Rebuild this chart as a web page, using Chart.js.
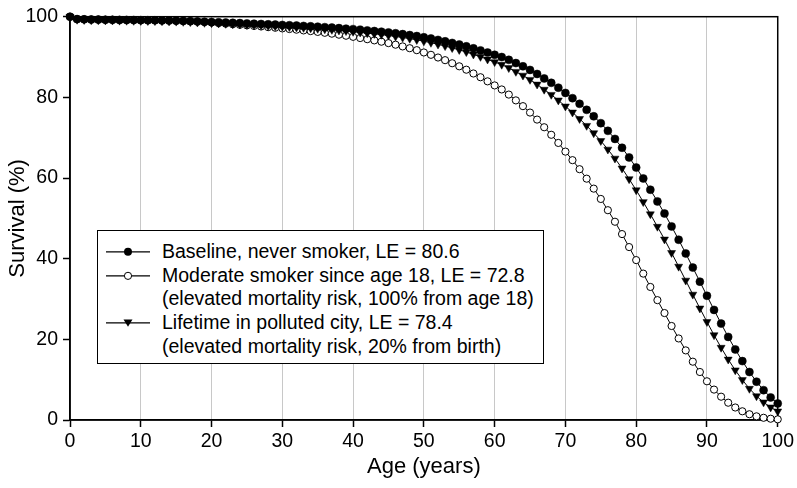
<!DOCTYPE html>
<html><head><meta charset="utf-8">
<script src="https://cdn.jsdelivr.net/npm/chart.js@4.4.1/dist/chart.umd.min.js"></script>
<style>
html,body{margin:0;padding:0;background:#fff;}
#wrap{position:relative;width:797px;height:488px;}
#legend{position:absolute;left:97px;top:230px;width:447px;height:134px;border:1.5px solid #000;background:#fff;font-family:"Liberation Sans",Arial,sans-serif;font-size:19.5px;color:#000;box-sizing:border-box;padding-top:9px;}
.row{position:relative;height:23.7px;line-height:23.7px;white-space:nowrap;}
.row svg{position:absolute;left:7px;top:0;}
.row span{position:absolute;left:64px;top:0;}
</style></head>
<body>
<div id="wrap"><canvas id="c" width="797" height="488"></canvas><div id="legend"></div></div>
<script>
const ages = [0,1,2,3,4,5,6,7,8,9,10,11,12,13,14,15,16,17,18,19,20,21,22,23,24,25,26,27,28,29,30,31,32,33,34,35,36,37,38,39,40,41,42,43,44,45,46,47,48,49,50,51,52,53,54,55,56,57,58,59,60,61,62,63,64,65,66,67,68,69,70,71,72,73,74,75,76,77,78,79,80,81,82,83,84,85,86,87,88,89,90,91,92,93,94,95,96,97,98,99,100];

const baseline = [100,99.4,99.35,99.3,99.28,99.25,99.23,99.21,99.19,99.17,99.15,99.13,99.11,99.08,99.05,99.01,98.96,98.9,98.83,98.76,98.69,98.62,98.55,98.48,98.41,98.34,98.27,98.2,98.12,98.04,97.96,97.88,97.8,97.71,97.62,97.52,97.41,97.3,97.17,97.04,96.9,96.75,96.6,96.45,96.28,96.1,95.9,95.68,95.45,95.2,94.9,94.6,94.25,93.9,93.5,93.1,92.65,92.15,91.65,91.1,90.55,90.0,89.3,88.5,87.7,86.8,85.8,84.7,83.6,82.4,81.1,79.8,78.4,76.9,75.3,73.6,71.7,69.7,67.5,65.1,62.6,59.9,57.1,54.2,51.2,48.0,44.7,41.3,37.8,34.3,30.8,27.3,23.9,20.6,17.5,14.6,11.9,9.5,7.4,5.6,4.1];

const smoker = [100,99.4,99.35,99.3,99.28,99.25,99.23,99.21,99.19,99.17,99.15,99.13,99.11,99.08,99.05,99.01,98.96,98.9,98.83,98.69,98.55,98.41,98.27,98.13,97.99,97.85,97.71,97.57,97.41,97.26,97.1,96.94,96.78,96.6,96.43,96.23,96.01,95.79,95.54,95.28,95.01,94.71,94.42,94.13,93.8,93.45,93.06,92.63,92.19,91.7,91.13,90.55,89.88,89.22,88.46,87.7,86.86,85.92,84.99,83.97,82.96,81.96,80.69,79.25,77.82,76.23,74.49,72.59,70.72,68.7,66.55,64.43,62.19,59.84,57.37,54.81,52.02,49.16,46.1,42.88,39.65,36.3,32.99,29.72,26.52,23.31,20.22,17.26,14.46,11.9,9.6,7.54,5.78,4.29,3.1,2.16,1.43,0.91,0.55,0.32,0.17];

const polluted = [100,99.28,99.22,99.16,99.14,99.1,99.08,99.05,99.03,99.0,98.98,98.96,98.93,98.9,98.86,98.81,98.75,98.68,98.6,98.51,98.43,98.34,98.26,98.18,98.09,98.01,97.92,97.84,97.74,97.65,97.56,97.46,97.37,97.26,97.15,97.03,96.9,96.77,96.61,96.46,96.29,96.11,95.93,95.76,95.55,95.34,95.1,94.84,94.57,94.27,93.91,93.56,93.14,92.73,92.25,91.78,91.25,90.66,90.07,89.42,88.77,88.12,87.3,86.36,85.43,84.38,83.21,81.93,80.66,79.27,77.77,76.28,74.68,72.97,71.15,69.22,67.09,64.85,62.4,59.75,57.0,54.07,51.05,47.95,44.79,41.45,38.05,34.6,31.12,27.69,24.34,21.06,17.95,15.02,12.35,9.94,7.77,5.93,4.4,3.15,2.16];

const legendRows = [
  {marker:'filled', text:'Baseline, never smoker, LE = 80.6'},
  {marker:'open', text:'Moderate smoker since age 18, LE = 72.8'},
  {marker:null, text:'(elevated mortality risk, 100% from age 18)'},
  {marker:'tri', text:'Lifetime in polluted city, LE = 78.4'},
  {marker:null, text:'(elevated mortality risk, 20% from birth)'}
];

const xTitle = 'Age (years)';
const yTitle = 'Survival (%)';
const FONT = '"Liberation Sans", Arial, sans-serif';

function pts(vals){ return ages.map((a,i)=>({x:a, y:vals[i]})); }

// legend (HTML)
const lg = document.getElementById('legend');
legendRows.forEach(r=>{
  const d = document.createElement('div'); d.className='row';
  if (r.marker){
    let m = '';
    if (r.marker==='filled') m = '<circle cx="23" cy="11.85" r="4" fill="#000"/>';
    if (r.marker==='open') m = '<circle cx="23" cy="11.85" r="3.6" fill="#fff" stroke="#000" stroke-width="1"/>';
    if (r.marker==='tri') m = '<polygon points="18.5,8.6 27.5,8.6 23,15.8" fill="#000"/>';
    d.innerHTML = '<svg width="46" height="24"><line x1="1" y1="11.85" x2="45" y2="11.85" stroke="#000" stroke-width="1.2"/>'+m+'</svg>';
  }
  const s = document.createElement('span'); s.textContent = r.text; d.appendChild(s);
  lg.appendChild(d);
});

const boxPlugin = {
  id:'box',
  beforeDatasetsDraw(chart){
    const {ctx, chartArea:a} = chart;
    ctx.save(); ctx.strokeStyle='#000'; ctx.lineWidth=1.5;
    ctx.strokeRect(a.left, a.top, a.right-a.left, a.bottom-a.top);
    ctx.restore();
  }
};

new Chart(document.getElementById('c'), {
  type:'line',
  data:{ datasets:[
    {label:'Lifetime in polluted city', data:pts(polluted), order:1, borderColor:'#000', borderWidth:1, pointStyle:'triangle', rotation:180, pointRadius:4.6, pointBackgroundColor:'#000', pointBorderColor:'#000', pointBorderWidth:0.5, fill:false, tension:0, clip:false},
    {label:'Baseline', data:pts(baseline), order:2, borderColor:'#000', borderWidth:1, pointStyle:'circle', pointRadius:4, pointBackgroundColor:'#000', pointBorderColor:'#000', pointBorderWidth:0.5, fill:false, tension:0, clip:false},
    {label:'Moderate smoker', data:pts(smoker), order:3, borderColor:'#000', borderWidth:1, pointStyle:'circle', pointRadius:3.6, pointBackgroundColor:'#fff', pointBorderColor:'#000', pointBorderWidth:1, fill:false, tension:0, clip:false}
  ]},
  options:{
    responsive:false, animation:false, devicePixelRatio:1,
    layout:{padding:{left:0,right:17,top:9,bottom:0}},
    plugins:{legend:{display:false}, tooltip:{enabled:false}},
    scales:{
      x:{type:'linear', min:0, max:100,
        ticks:{stepSize:10, color:'#000', font:{family:FONT,size:19.5}, padding:3, maxRotation:0},
        grid:{color:'#c8c8c8', lineWidth:1, tickColor:'#000', tickLength:7, tickWidth:1.5},
        border:{color:'#000', width:1.5},
        title:{display:true, text:xTitle, color:'#000', font:{family:FONT,size:22}, padding:{top:0,bottom:8}},
        afterFit(s){ s.height = 68; }
      },
      y:{min:0, max:100,
        ticks:{stepSize:20, color:'#000', font:{family:FONT,size:19.5}, padding:5},
        grid:{drawOnChartArea:false, tickColor:'#000', tickLength:7, tickWidth:1.5},
        border:{color:'#000', width:1.5},
        title:{display:true, text:yTitle, color:'#000', font:{family:FONT,size:22}, padding:{top:5,bottom:0}},
        afterFit(s){ s.width = 70; }
      }
    }
  },
  plugins:[boxPlugin]
});
</script>
</body></html>
